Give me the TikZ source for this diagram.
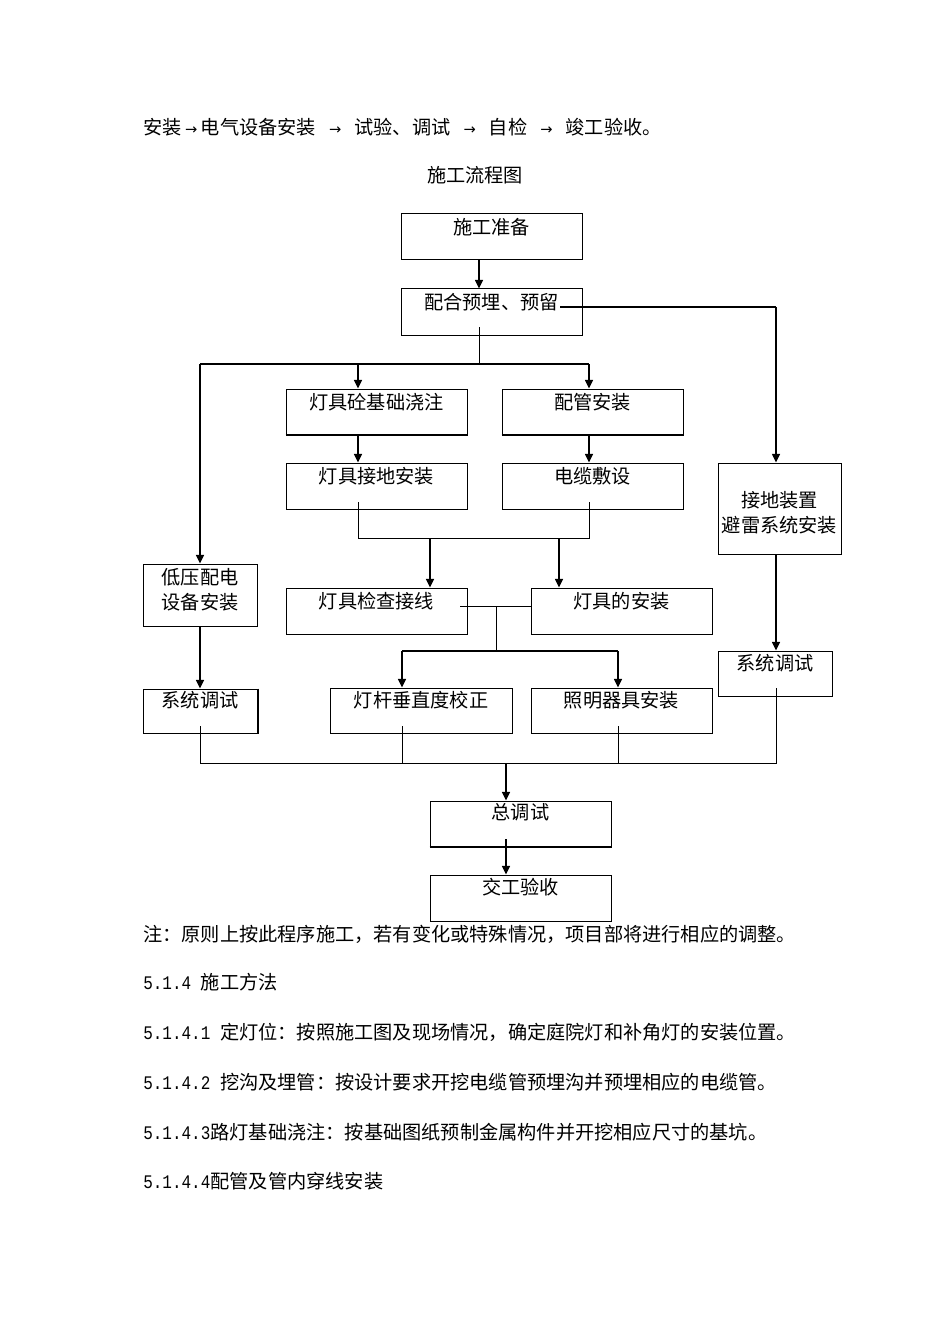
\documentclass[tikz,border=0pt]{standalone}
\usepackage{fontspec}
\setmainfont{Noto Sans CJK SC}
\newfontfamily\dejavu{DejaVu Sans}
\newfontfamily\monofnt{Liberation Mono}[FakeStretch=0.833]
\usetikzlibrary{arrows.meta}
\newcommand\hs{\hspace{0.5em}}
\newcommand\farr{\makebox[1em]{\dejavu\fontsize{11pt}{12pt}\selectfont →}}
\newcommand\numtxt[1]{{\monofnt\fontsize{14.4pt}{16pt}\selectfont #1}}
\tikzset{
  box/.style 2 args={draw, line width=0.75pt, inner sep=0pt, minimum width=#1, minimum height=#2},
  txt/.style={inner sep=0pt, align=center},
  para/.style={inner sep=0pt, anchor=west},
  arr/.style={line width=1.1pt, -{Triangle[length=6.5pt,width=6pt]}},
  mainline/.style={line width=1.1pt},
  thinline/.style={line width=0.75pt},
  heavy/.style={line width=1.5pt}
}
\begin{document}
\begin{tikzpicture}[x=0.75pt,y=-0.75pt,font=\fontsize{14.4pt}{18pt}\selectfont]
\fill[white] (0,0) rectangle (950,1344);
\useasboundingbox (0,0) rectangle (950,1344);

% text above
\node[para] (L0) at (143,127) {安装\farr 电气设备安装\hs\farr\hs 试验、调试\hs\farr\hs 自检\hs\farr\hs 竣工验收。};
\node[txt] (title) at (475,175) {施工流程图};

% boxes
\node[box={135.75pt}{34.5pt}] (A) at (491.5,237) {};
\node[txt] (At) at (491.5,227) {施工准备};
\node[box={135.75pt}{34.5pt}] (B) at (491.5,312) {};
\node[txt] (Bt) at (491.5,302) {配合预埋、预留};
\node[box={135.75pt}{33.75pt}] (C) at (376.5,411.5) {};
\node[txt] (Ct) at (376.5,402) {灯具砼基础浇注};
\node[box={135.75pt}{33.75pt}] (D) at (592.5,411.5) {};
\node[txt] (Dt) at (592.5,402) {配管安装};
\node[box={135.75pt}{34.5pt}] (E) at (376.5,486) {};
\node[txt] (Et) at (376.5,476) {灯具接地安装};
\node[box={135.75pt}{34.5pt}] (F) at (592.5,486) {};
\node[txt] (Ft) at (592.5,476) {电缆敷设};
\node[box={92.25pt}{68.25pt}] (G) at (779.5,508.5) {};
\node[txt] (Gt1) at (779.5,500) {接地装置};
\node[txt] (Gt2) at (779.5,525) {避雷系统安装};
\node[box={85.5pt}{46.5pt}] (H) at (200,595) {};
\node[txt] (Ht1) at (200,577) {低压配电};
\node[txt] (Ht2) at (200,602) {设备安装};
\node[box={135.75pt}{34.5pt}] (I) at (376.5,611) {};
\node[txt] (It) at (376.5,601) {灯具检查接线};
\node[box={135.75pt}{34.5pt}] (J) at (621.5,611) {};
\node[txt] (Jt) at (621.5,601) {灯具的安装};
\node[box={85.5pt}{33.75pt}] (K) at (775,673.5) {};
\node[txt] (Kt) at (775,663) {系统调试};
\node[box={85.5pt}{33pt}] (L) at (200,711) {};
\node[txt] (Lt) at (200,700) {系统调试};
\node[box={136.5pt}{33.75pt}] (M) at (421,710.5) {};
\node[txt] (Mt) at (421,700) {灯杆垂直度校正};
\node[box={135.75pt}{33.75pt}] (N) at (621.5,710.5) {};
\node[txt] (Nt) at (621.5,700) {照明器具安装};
\node[box={135.75pt}{33.75pt}] (O) at (520.5,823.5) {};
\node[txt] (Ot) at (520.5,812) {总调试};
\node[box={135.75pt}{34.5pt}] (P) at (520.5,898) {};
\node[txt] (Pt) at (520.5,887) {交工验收};

% heavier edges
\draw[heavy] (C.south west) -- (C.south east);
\draw[heavy] (D.south west) -- (D.south east);
\draw[heavy] (L.north east) -- (L.south east);
\draw[heavy] (O.south west) -- (O.south east);

% coordinates
\coordinate (b0) at (479,327);
\coordinate (b1) at (479,364);
\coordinate (l1) at (200,364);
\coordinate (c1) at (358,364);
\coordinate (r1) at (589,364);
\coordinate (b2) at (560,307);
\coordinate (g1) at (776,307);
\coordinate (e0) at (358,502);
\coordinate (e1) at (358,538);
\coordinate (f0) at (589,502);
\coordinate (f1) at (589,538);
\coordinate (i1) at (430,538);
\coordinate (j1) at (559,538);
\coordinate (i0) at (460,606);
\coordinate (k0) at (496,606);
\coordinate (k1) at (496,651);
\coordinate (m1) at (402,651);
\coordinate (n1) at (618,651);
\coordinate (l2) at (200,726);
\coordinate (l3) at (200,763);
\coordinate (m2) at (402,726);
\coordinate (m3) at (402,763);
\coordinate (n2) at (618,726);
\coordinate (n3) at (618,763);
\coordinate (k2) at (776,688);
\coordinate (k3) at (776,763);
\coordinate (o1) at (506,763);
\coordinate (o2) at (506,839);

% connectors
\draw[arr] (A.south -| b1) -- (B.north -| b1);
\draw[thinline] (b0) -- (b1);
\draw[mainline] (l1) -- (r1);
\draw[arr] (l1) -- (H.north -| l1);
\draw[arr] (c1) -- (C.north -| c1);
\draw[arr] (r1) -- (D.north -| r1);
\draw[mainline] (b2) -- (g1);
\draw[arr] (g1) -- (G.north -| g1);
\draw[arr] (C.south -| c1) -- (E.north -| c1);
\draw[arr] (D.south -| r1) -- (F.north -| r1);
\draw[thinline] (e0) -- (e1) -- (f1) -- (f0);
\draw[arr] (i1) -- (I.north -| i1);
\draw[arr] (j1) -- (J.north -| j1);
\draw[thinline] (i0) -- (J.west |- i0);
\draw[thinline] (k0) -- (k1);
\draw[mainline] (m1) -- (n1);
\draw[arr] (m1) -- (M.north -| m1);
\draw[arr] (n1) -- (N.north -| n1);
\draw[arr] (H.south -| l1) -- (L.north -| l1);
\draw[arr] (G.south -| g1) -- (K.north -| g1);
\draw[thinline] (l2) -- (l3) -- (k3) -- (k2);
\draw[thinline] (m2) -- (m3);
\draw[thinline] (n2) -- (n3);
\draw[arr] (o1) -- (O.north -| o1);
\draw[arr] (o2) -- (P.north -| o2);

% text below
\node[para] (note) at (143,934) {注：原则上按此程序施工，若有变化或特殊情况，项目部将进行相应的调整。};
\node[para] (s0) at (143,982) {\numtxt{5.1.4 }施工方法};
\node[para] (s1) at (143,1032) {\numtxt{5.1.4.1 }定灯位：按照施工图及现场情况，确定庭院灯和补角灯的安装位置。};
\node[para] (s2) at (143,1082) {\numtxt{5.1.4.2 }挖沟及埋管：按设计要求开挖电缆管预埋沟并预埋相应的电缆管。};
\node[para] (s3) at (143,1132) {\numtxt{5.1.4.3}路灯基础浇注：按基础图纸预制金属构件并开挖相应尺寸的基坑。};
\node[para] (s4) at (143,1181) {\numtxt{5.1.4.4}配管及管内穿线安装};
\end{tikzpicture}
\end{document}
